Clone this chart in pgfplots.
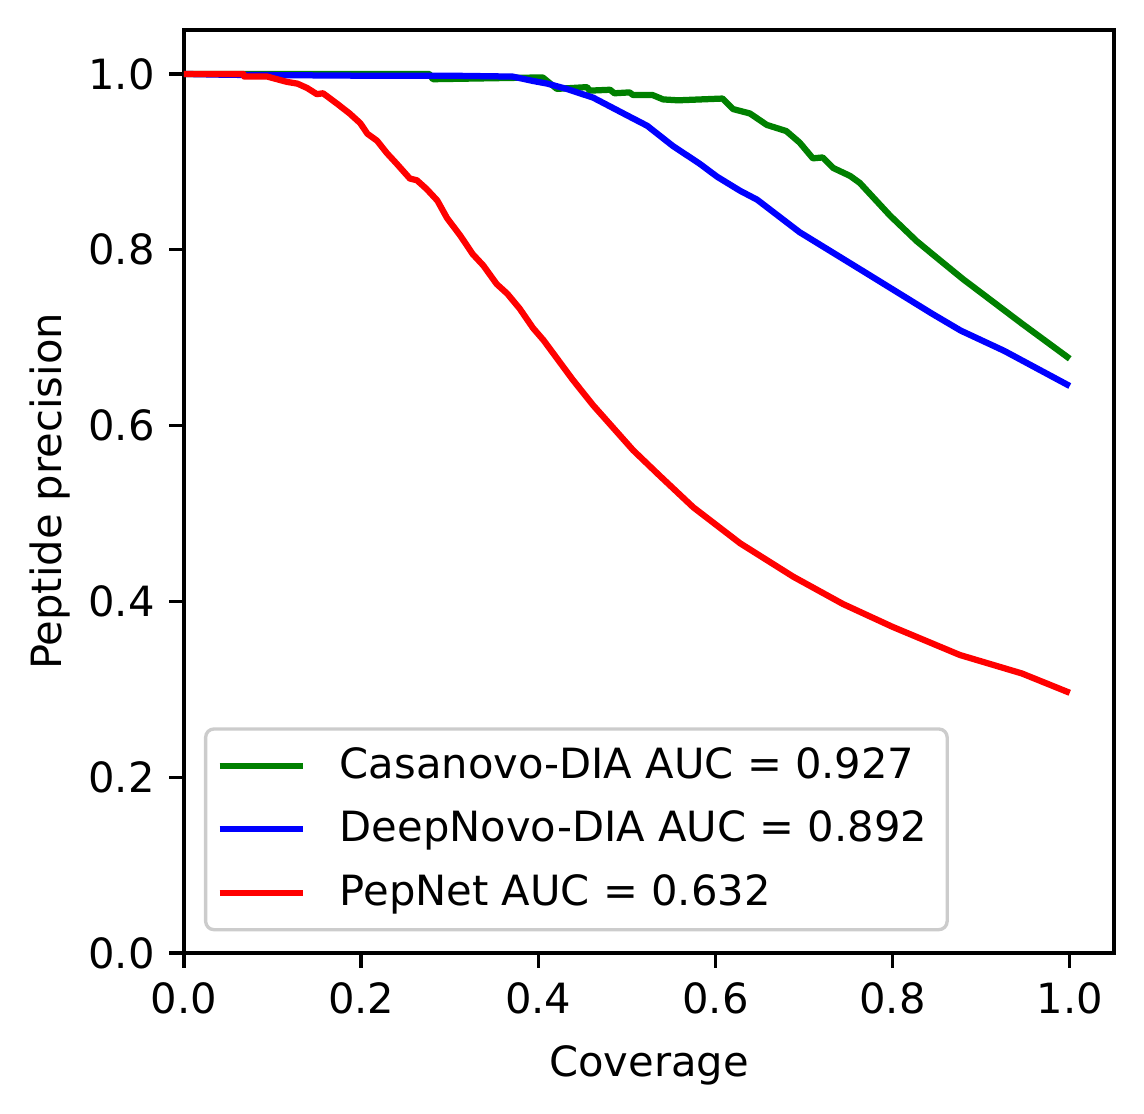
\documentclass[border=0pt]{standalone}
\usepackage{fontspec}
\setmainfont{DejaVu Sans}
\usepackage{pgfplots}
\pgfplotsset{compat=1.18}
\definecolor{mplgreen}{HTML}{008000}
\definecolor{mplblue}{HTML}{0000FF}
\definecolor{mplred}{HTML}{FF0000}
\begin{document}
\begin{tikzpicture}
\path[use as bounding box] (-44.16pt,-38.4pt) rectangle (230.4pt,228.72pt);
\begin{axis}[
  at={(0,0)}, anchor=south west,
  scale only axis, width=223.2pt, height=221.52pt,
  xmin=0, xmax=1.05, ymin=0, ymax=1.05,
  xtick={0,0.2,0.4,0.6,0.8,1.0},
  ytick={0,0.2,0.4,0.6,0.8,1.0},
  xtick pos=bottom, ytick pos=left,
  tick align=outside, major tick length=3.5pt,
  every tick/.style={black, line width=0.8pt},
  axis line style={line width=0.8pt},
  /pgf/number format/fixed,
  /pgf/number format/fixed zerofill,
  /pgf/number format/precision=1,
  /pgf/number format/assume math mode=true,
  ticklabel style={font=\fontsize{10}{12}\selectfont},
  label style={font=\fontsize{10}{12}\selectfont},
  xlabel={Coverage},
  ylabel={Peptide precision},
  ylabel style={yshift=-2.5pt},
  xlabel style={yshift=-0.8pt},
  legend cell align=left,
  legend style={at={(0,0)}, anchor=south west, xshift=4.8pt, yshift=5.2pt,
    draw=black!20, line width=0.8pt, rounded corners=2pt, fill=white,
    inner xsep=2.6pt, inner ysep=4.4pt, row sep=6.3pt, column sep=8.1pt,
    nodes={inner sep=0pt},
    font=\fontsize{10}{12}\selectfont},
  legend image code/.code={\draw[#1] (0pt,0pt) -- (20pt,0pt);},
  every axis plot/.append style={line width=1.5pt, line join=round},
]
\addplot[mplgreen] coordinates {
(0,1.0) (0.277,1.0) (0.281,0.994) (0.402,0.996) (0.405,0.996)
(0.421,0.983) (0.455,0.985) (0.458,0.981) (0.481,0.982) (0.486,0.978)
(0.503,0.979) (0.507,0.976) (0.529,0.976) (0.541,0.971) (0.558,0.970)
(0.608,0.972) (0.620,0.960) (0.639,0.955) (0.658,0.942) (0.680,0.935)
(0.695,0.922) (0.710,0.904) (0.721,0.905) (0.733,0.893) (0.752,0.884)
(0.763,0.876) (0.797,0.839) (0.827,0.810) (0.845,0.795) (0.879,0.767)
(0.946,0.716) (1.0,0.676)
};
\addlegendentry{Casanovo-DIA AUC = 0.927\hspace*{2.2pt}}
\addplot[mplblue] coordinates {
(0,1.0) (0.05,0.999) (0.2,0.998) (0.30,0.998) (0.371,0.997)
(0.394,0.992) (0.41,0.989) (0.432,0.983) (0.462,0.973) (0.50,0.953)
(0.523,0.941) (0.552,0.918) (0.582,0.898) (0.602,0.883) (0.628,0.867)
(0.647,0.857) (0.695,0.820) (0.771,0.773) (0.845,0.727) (0.877,0.708)
(0.926,0.685) (1.0,0.645)
};
\addlegendentry{DeepNovo-DIA AUC = 0.892\hspace*{2.2pt}}
\addplot[mplred] coordinates {
(0,1.0) (0.067,1.0) (0.068,0.997) (0.094,0.997) (0.105,0.994)
(0.116,0.991) (0.128,0.989) (0.139,0.984) (0.150,0.977) (0.157,0.978)
(0.173,0.966) (0.187,0.955) (0.199,0.944) (0.207,0.932) (0.218,0.924)
(0.229,0.910) (0.240,0.898) (0.255,0.881) (0.263,0.879) (0.274,0.869)
(0.286,0.856) (0.297,0.836) (0.312,0.816) (0.326,0.795) (0.338,0.782)
(0.353,0.761) (0.365,0.750) (0.379,0.733) (0.394,0.711) (0.406,0.697)
(0.439,0.652) (0.462,0.623) (0.507,0.572) (0.537,0.543) (0.575,0.507)
(0.628,0.466) (0.688,0.428) (0.744,0.397) (0.80,0.371) (0.876,0.339)
(0.946,0.318) (1.0,0.296)
};
\addlegendentry{PepNet AUC = 0.632}
\end{axis}
\end{tikzpicture}
\end{document}
